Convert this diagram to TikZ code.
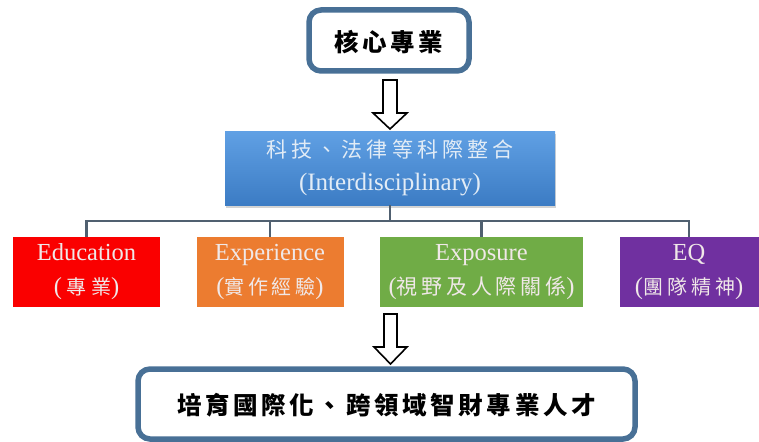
\documentclass[tikz,border=0pt]{standalone}
\usepackage{fontspec}
\setmainfont{Liberation Serif}
\newfontfamily\cjk{Noto Sans CJK TC}
\usetikzlibrary{shadows}
\definecolor{frameblue}{RGB}{72,112,150}
\definecolor{linegray}{RGB}{80,96,112}
\definecolor{btop}{RGB}{96,160,228}
\definecolor{bbot}{RGB}{60,124,196}
\definecolor{redbox}{RGB}{250,0,0}
\definecolor{orangebox}{RGB}{236,124,48}
\definecolor{greenbox}{RGB}{112,172,70}
\definecolor{purplebox}{RGB}{112,48,160}
\definecolor{lighttext}{RGB}{240,232,232}
\definecolor{bluetext}{RGB}{226,236,246}
\tikzset{
  x=1pt, y=-1pt,
  framebox/.style={draw=frameblue, line width=5.5pt, rounded corners=12pt, fill=white, inner sep=0pt},
  catbox/.style={inner sep=0pt, text=lighttext, align=center, font=\fontsize{24.5}{34}\selectfont},
  conn/.style={draw=linegray, line width=2.6pt},
  hollow/.style={draw=black, line width=1.6pt, fill=white, line join=miter},
}
\newcommand{\cjs}[2]{{\cjk\addfontfeature{LetterSpace=#1}#2}}
\begin{document}
\begin{tikzpicture}
\useasboundingbox (0,0) rectangle (759,441);
% top box
\node[framebox, minimum width=160pt, minimum height=61pt] (top) at (389,40.5) {};
\node (toptext) at (389,42) {\fontsize{24.5}{24}\selectfont\cjk\bfseries\addfontfeature{LetterSpace=15}核心專業};
% arrow 1
\draw[hollow] (383,80) -- (397,80) -- (397,113) -- (407,113) -- (390,129) -- (373,113) -- (383,113) -- cycle;
% blue box
\node[minimum width=330pt, minimum height=74pt, inner sep=0pt, top color=btop, bottom color=bbot,
  drop shadow={shadow xshift=1pt, shadow yshift=-3pt, opacity=0.35}, text=bluetext, align=center,
  font=\fontsize{25}{33}\selectfont] (inter) at (390,168)
  {\cjs{20}{\fontsize{21}{33}\selectfont 科技、法律等科際整合}\\(Interdisciplinary)};
% category boxes
\node[catbox, fill=redbox, minimum width=147pt, minimum height=70pt] (edu) at (86.5,272)
  {Education\\(\,\cjs{25}{\fontsize{20}{34}\selectfont 專業})};
\node[catbox, fill=orangebox, minimum width=147pt, minimum height=70pt] (exp) at (270,272)
  {Experience\\(\cjs{18}{\fontsize{20}{34}\selectfont 實作經驗})};
\node[catbox, fill=greenbox, minimum width=203pt, minimum height=70pt] (expo) at (481.5,272)
  {Exposure\\(\cjs{18}{\fontsize{21}{34}\selectfont 視野及人際關係})};
\node[catbox, fill=purplebox, minimum width=139pt, minimum height=70pt] (eq) at (689,272)
  {EQ\\(\cjs{20}{\fontsize{20}{34}\selectfont 團隊精神})};
% connectors
\coordinate (hub) at (390,221);
\draw[conn] (inter.south) -- (hub);
\draw[conn] (edu.north) -- (86.5,221) -- (eq.north |- hub) -- (eq.north);
\draw[conn] (exp.north) -- (exp.north |- hub);
\draw[conn] (expo.north) -- (expo.north |- hub);
% arrow 2
\draw[hollow] (384,314) -- (397,314) -- (397,347) -- (407,347) -- (390.5,364) -- (374,347) -- (384,347) -- cycle;
% bottom box
\node[framebox, minimum width=497pt, minimum height=70pt] (bot) at (386.5,404) {};
\node (bottext) at (386.5,405) {\fontsize{24.5}{24}\selectfont\cjk\bfseries\addfontfeature{LetterSpace=15}培育國際化、跨領域智財專業人才};
\end{tikzpicture}
\end{document}
